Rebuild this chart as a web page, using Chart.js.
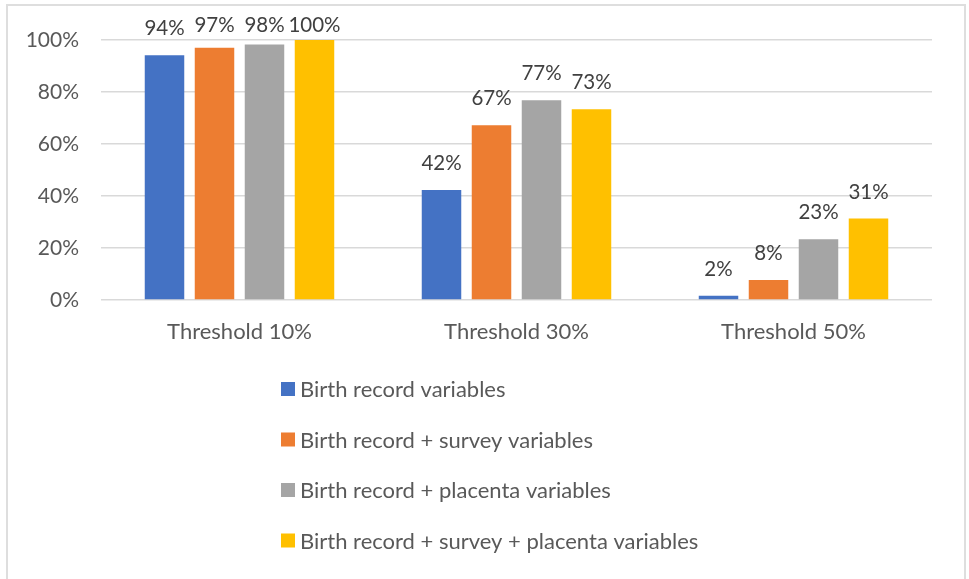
<!DOCTYPE html>
<html>
<head>
<meta charset="utf-8">
<script src="https://cdn.jsdelivr.net/npm/chart.js@4"></script>
<style>
  html, body { margin: 0; padding: 0; background: #fff; }
  #wrap { position: relative; width: 969px; height: 579px; overflow: hidden; }
  #frame { position: absolute; left: 6px; top: 4px; width: 960px; height: 600px; border: 2px solid #dedede; box-sizing: border-box; pointer-events: none; }
  #chart { position: absolute; left: 0; top: 0; }
</style>
</head>
<body>
<div id="wrap">
  <canvas id="chart" width="969" height="579"></canvas>
  <div id="frame"></div>
</div>
<script>
// Categories and series (percent)
const categories = ['Threshold 10%', 'Threshold 30%', 'Threshold 50%'];
const seriesNames = [
    'Birth record variables',
    'Birth record + survey variables',
    'Birth record + placenta variables',
    'Birth record + survey + placenta variables'
];
const birthRecord = [94.1, 42.3, 1.6];
const birthSurvey = [97.0, 67.2, 7.7];
const birthPlacenta = [98.3, 76.8, 23.4];
const birthSurveyPlacenta = [100, 73.4, 31.3];
const seriesColors = ['#4472C4', '#ED7D31', '#A5A5A5', '#FFC000'];

const FONT = 'Lato, "Open Sans", sans-serif';
const TEXT = '#595959';

// value labels above each bar (kept inside the top of the chart like Excel does)
const valueLabels = {
    id: 'valueLabels',
    afterDatasetsDraw(chart) {
        const ctx = chart.ctx;
        ctx.save();
        ctx.font = '20.5px ' + FONT;
        ctx.fillStyle = '#404040';
        ctx.textAlign = 'center';
        ctx.textBaseline = 'alphabetic';
        chart.data.datasets.forEach((ds, i) => {
            chart.getDatasetMeta(i).data.forEach((bar, j) => {
                const y = Math.max(32, bar.y - 20);
                ctx.fillText(Math.round(ds.data[j]) + '%', bar.x, y);
            });
        });
        ctx.restore();
    }
};

// vertical legend list under the axis
const legendLeft = 281;
const legendTop = 389;
const legendStep = 50.5;
const listLegend = {
    id: 'listLegend',
    afterDraw(chart) {
        const ctx = chart.ctx;
        ctx.save();
        ctx.font = '22px ' + FONT;
        ctx.textBaseline = 'middle';
        ctx.textAlign = 'left';
        chart.data.datasets.forEach((ds, i) => {
            const y = legendTop + i * legendStep;
            ctx.fillStyle = ds.backgroundColor;
            ctx.fillRect(legendLeft, y - 7, 14, 14);
            ctx.fillStyle = TEXT;
            ctx.fillText(ds.label, legendLeft + 19, y + 1);
        });
        ctx.restore();
    }
};

const allSeries = [birthRecord, birthSurvey, birthPlacenta, birthSurveyPlacenta];

new Chart(document.getElementById('chart').getContext('2d'), {
    type: 'bar',
    data: {
        labels: categories,
        datasets: allSeries.map((values, i) => ({
            label: seriesNames[i],
            data: values,
            backgroundColor: seriesColors[i],
            barPercentage: 0.79,
            categoryPercentage: 0.722
        }))
    },
    options: {
        responsive: false,
        animation: false,
        layout: {
            padding: { left: 0, right: 37, top: 40, bottom: 219 }
        },
        plugins: {
            legend: { display: false },
            tooltip: { enabled: false }
        },
        scales: {
            x: {
                grid: { display: false },
                border: { display: false },
                ticks: {
                    color: TEXT,
                    font: { family: FONT, size: 22 },
                    padding: 11
                },
                afterFit(scale) { scale.height = 60; }
            },
            y: {
                min: 0,
                max: 100,
                border: { display: false },
                grid: { color: '#d9d9d9', lineWidth: 1.5, drawTicks: false },
                ticks: {
                    stepSize: 20,
                    color: TEXT,
                    font: { family: FONT, size: 21 },
                    padding: 22,
                    callback: v => v + '%'
                },
                afterFit(scale) { scale.width = 101; }
            }
        }
    },
    plugins: [valueLabels, listLegend]
});
</script>
</body>
</html>
